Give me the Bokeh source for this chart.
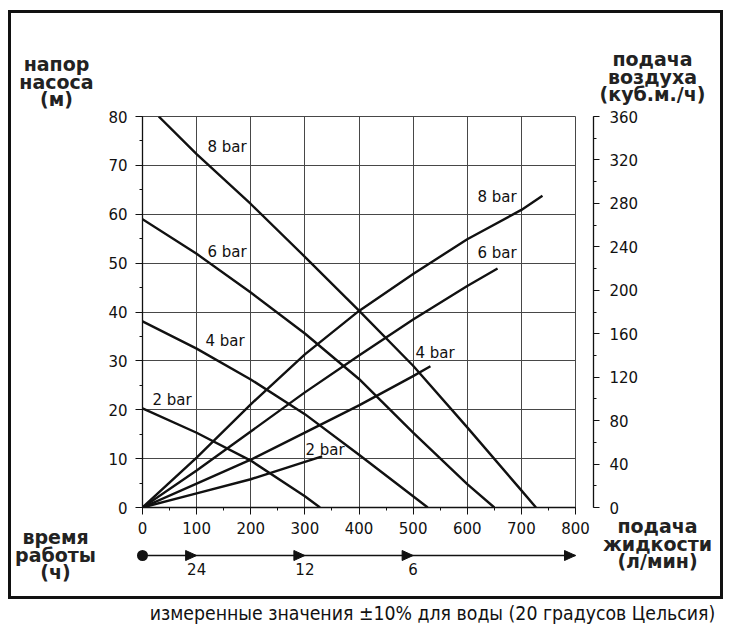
import numpy as np
from bokeh.plotting import figure
from bokeh.models import (Range1d, LinearAxis, Label, FixedTicker,
                          SingleIntervalTicker, ColumnDataSource)
from bokeh.layouts import column
from bokeh.embed import file_html
from bokeh.resources import INLINE
from bokeh.core.properties import value

# ---------------- data ----------------
# pump head (m) versus liquid flow (l/min)
head_2bar_flow = [0, 100, 200, 300, 328]
head_2bar_m = [20.3, 15.3, 9.6, 2.3, 0]
head_4bar_flow = [0, 100, 200, 300, 400, 500, 527]
head_4bar_m = [38.1, 32.5, 26.2, 19.1, 10.8, 2.3, 0]
head_6bar_flow = [0, 100, 200, 300, 400, 500, 600, 650]
head_6bar_m = [59.0, 51.9, 44.0, 35.6, 26.3, 15.3, 4.8, 0]
head_8bar_flow = [30, 100, 200, 300, 400, 500, 600, 700, 727]
head_8bar_m = [80, 72.3, 62.1, 51.3, 40.3, 29.0, 16.4, 3.5, 0]

# air consumption (m3/h) versus liquid flow (l/min)
air_2bar_flow = [0, 100, 200, 300, 332]
air_2bar_m3h = [0, 13, 26, 42, 47]
air_4bar_flow = [0, 100, 200, 300, 400, 500, 532]
air_4bar_m3h = [0, 22, 44, 69, 94, 121, 130]
air_6bar_flow = [0, 100, 200, 300, 400, 500, 600, 656]
air_6bar_m3h = [0, 34, 70, 106, 140, 173, 204, 220]
air_8bar_flow = [0, 100, 200, 300, 400, 500, 600, 700, 739]
air_8bar_m3h = [0, 46, 95, 141, 181, 215, 247, 274, 287]

# running time scale
time_flow = [100, 300, 500]
time_hours = ["24", "12", "6"]

curve_names = ["8 bar", "6 bar", "4 bar", "2 bar", "8 bar", "6 bar", "4 bar", "2 bar"]

caption = "измеренные значения ±10% для воды (20 градусов Цельсия)"

# ---------------- layout ----------------
X0, X1, Y0, Y1 = 0, 800, 0, 80
AIR0, AIR1 = 0, 360
FRAME_L, FRAME_R, FRAME_T, FRAME_B = 131, 145, 103, 89
FRAME_W, FRAME_H = 433, 391
W = FRAME_L + FRAME_W + FRAME_R
H = FRAME_T + FRAME_H + FRAME_B
PAGE_LEFT, PAGE_TOP = 11, 13          # page position of the figure canvas
FL_PAGE = PAGE_LEFT + FRAME_L          # frame left on page
FB_PAGE = PAGE_TOP + FRAME_T + FRAME_H # frame bottom on page
KX = FRAME_W / (X1 - X0)               # px per l/min
KY = FRAME_H / (Y1 - Y0)               # px per m
BASE_FIX = -6.5                        # baseline correction for shifted texts


def dx(px):
    return X0 + (px - FL_PAGE) / KX


def dy(py):
    return Y0 + (FB_PAGE - py) / KY


# anchor for texts outside the frame: the frame centre, shifted in pixels
AX, AY = (X0 + X1) / 2, (Y0 + Y1) / 2
APX, APY = FL_PAGE + (AX - X0) * KX, FB_PAGE - (AY - Y0) * KY

FONT = "DejaVu Sans"
INK = "#111111"
GRID = "#474747"

p = figure(width=W, height=H, x_range=Range1d(X0, X1), y_range=Range1d(Y0, Y1),
           output_backend="svg", toolbar_location=None,
           min_border_left=FRAME_L, min_border_right=FRAME_R,
           min_border_top=FRAME_T, min_border_bottom=FRAME_B,
           background_fill_color="white", border_fill_color="white",
           outline_line_color=GRID, outline_line_width=1)

# axes
xa = p.xaxis[0]
xa.ticker = SingleIntervalTicker(interval=100, num_minor_ticks=2)
ya = p.yaxis[0]
ya.ticker = SingleIntervalTicker(interval=10, num_minor_ticks=2)
for ax in (xa, ya):
    ax.axis_line_color = INK
    ax.axis_line_width = 1.3
    ax.major_tick_line_color = INK
    ax.minor_tick_line_color = INK
    ax.major_tick_in = 0
    ax.minor_tick_in = 0
    ax.major_tick_out = 7
    ax.minor_tick_out = 3
    ax.major_label_text_font = FONT
    ax.major_label_text_font_size = "15px"
    ax.major_label_text_color = INK
xa.major_label_standoff = 7
ya.major_label_standoff = 8

p.extra_y_ranges = {"air": Range1d(AIR0, AIR1)}
spacer = LinearAxis(y_range_name="air", ticker=FixedTicker(ticks=[AIR0]),
                    axis_line_color=None, major_tick_line_color=None,
                    minor_tick_line_color=None, major_tick_in=0,
                    major_tick_out=18, minor_tick_out=0,
                    major_label_standoff=0, major_label_text_color=None,
                    major_label_text_font_size="1px")
p.add_layout(spacer, "right")
ra = LinearAxis(y_range_name="air",
                ticker=SingleIntervalTicker(interval=40, num_minor_ticks=2),
                axis_line_color=INK, axis_line_width=1.3,
                major_tick_line_color=INK, minor_tick_line_color=INK,
                major_tick_in=0, minor_tick_in=0, major_tick_out=6,
                minor_tick_out=3, major_label_standoff=10,
                major_label_text_font=FONT, major_label_text_font_size="15px",
                major_label_text_color=INK)
p.add_layout(ra, "right")

# grid
p.xgrid.ticker = SingleIntervalTicker(interval=100)
p.ygrid.ticker = SingleIntervalTicker(interval=10)
for g in (p.xgrid, p.ygrid):
    g.grid_line_color = GRID
    g.grid_line_width = 1

# curves
LW = 2.4
for fx, fy in [(head_2bar_flow, head_2bar_m), (head_4bar_flow, head_4bar_m),
               (head_6bar_flow, head_6bar_m), (head_8bar_flow, head_8bar_m)]:
    p.line(fx, fy, line_color=INK, line_width=LW, line_join="round")
for fx, fy in [(air_2bar_flow, air_2bar_m3h), (air_4bar_flow, air_4bar_m3h),
               (air_6bar_flow, air_6bar_m3h), (air_8bar_flow, air_8bar_m3h)]:
    p.line(fx, fy, y_range_name="air", line_color=INK, line_width=LW,
           line_join="round")

# curve labels (positions read from the page, in pixels)
lbl_px = [207, 207, 205, 152, 477, 477, 415, 305]
lbl_py = [146, 251, 340, 399.5, 196, 252.5, 352.5, 449]
src = ColumnDataSource(dict(x=[dx(v) for v in lbl_px], y=[dy(v) for v in lbl_py],
                            t=curve_names))
p.text(x="x", y="y", text="t", source=src, text_font=value(FONT),
       text_font_size="15px", text_color=INK, text_align="left",
       text_baseline="middle")

# axis titles outside the frame
titles = [
    (["напор", "насоса", "(м)"], 56, [70, 88, 105]),
    (["подача", "воздуха", "(куб.м./ч)"], 652, [65, 83, 100]),
    (["подача", "жидкости", "(л/мин)"], 657, [532, 550, 567]),
    (["время", "работы", "(ч)"], 55, [543, 561, 578]),
]
tt, tox, toy = [], [], []
for lines, cx, bases in titles:
    for t, b in zip(lines, bases):
        tt.append(t)
        tox.append(cx - APX)
        toy.append(b + BASE_FIX - APY)
tsrc = ColumnDataSource(dict(x=[AX] * len(tt), y=[AY] * len(tt), t=tt,
                             ox=tox, oy=toy))
p.text(x="x", y="y", text="t", x_offset="ox", y_offset="oy", source=tsrc,
       text_font=value(FONT), text_font_size="19px", text_font_style="bold",
       text_color="#222222", text_align="center", text_baseline="alphabetic",
       level="overlay")

# running-time scale below the flow axis
ty = dy(555)
p.line([X0, X1], [ty, ty], line_color=INK, line_width=1.5, level="overlay")
p.line([X0, X0], [ty, ty], line_color=INK, line_width=11, line_cap="round",
       level="overlay")
hl = 11 / KX
hh = 5 / KY
for f in time_flow + [X1]:
    p.patch([f - hl, f, f - hl], [ty - hh, ty, ty + hh], fill_color=INK,
            line_color=INK, line_width=1, level="overlay")
hsrc = ColumnDataSource(dict(x=[AX] * len(time_flow), y=[AY] * len(time_flow),
                             t=time_hours,
                             ox=[(f - AX) * KX for f in time_flow],
                             oy=[575 + BASE_FIX - APY] * len(time_flow)))
p.text(x="x", y="y", text="t", x_offset="ox", y_offset="oy", source=hsrc,
       text_font=value(FONT), text_font_size="15px", text_color=INK,
       text_align="center", text_baseline="alphabetic", level="overlay")

framed = column(p, styles={"border": "3px solid #111111",
                           "margin-top": "10px", "margin-left": "8px"})

CW, CH = 714, 32
cap = figure(width=CW, height=CH, x_range=Range1d(0, CW), y_range=Range1d(CH, 0),
             output_backend="svg", toolbar_location=None, min_border=0,
             outline_line_color=None, x_axis_type=None, y_axis_type=None,
             styles={"margin-left": "8px"})
cap.grid.visible = False
cap.add_layout(Label(x=432 - 8, y=14, text=caption,
                     text_font="DejaVu Sans Condensed, DejaVu Sans",
                     text_font_size="19.3px", text_color=INK,
                     text_align="center", text_baseline="alphabetic",
                     level="overlay"))

layout = column(framed, cap, spacing=0)
open("out.html", "w").write(file_html(layout, INLINE))
